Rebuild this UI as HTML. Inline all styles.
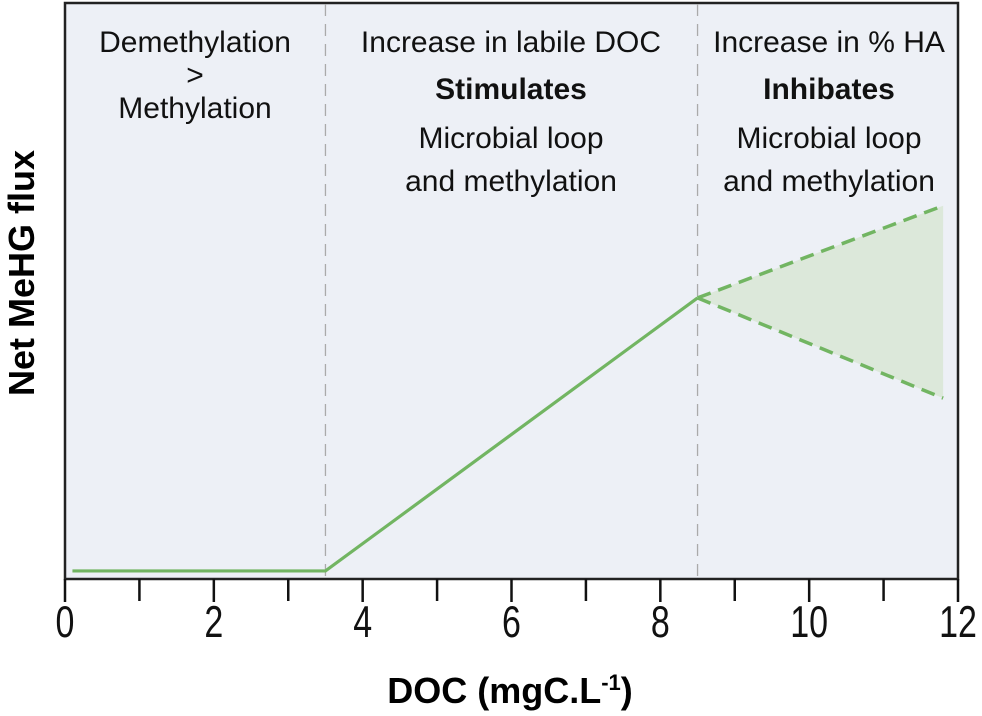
<!DOCTYPE html>
<html><head><meta charset="utf-8"><style>
body{margin:0;background:#fff;}
svg{display:block;font-family:"Liberation Sans",Arial,sans-serif;}
</style></head><body>
<svg id="chart" width="982" height="716">
<rect x="65" y="3" width="893" height="576" fill="#edf0f6" stroke="#222" stroke-width="2.5"/>
<g id="marks"></g>
<g font-size="30" text-anchor="middle" fill="#111">
<text x="195" y="52">Demethylation</text>
<text x="195" y="85">&gt;</text>
<text x="195" y="118">Methylation</text>
<text x="511" y="52">Increase in labile DOC</text>
<text x="511" y="99" font-weight="bold">Stimulates</text>
<text x="511" y="148">Microbial loop</text>
<text x="511" y="191">and methylation</text>
<text x="829" y="52">Increase in % HA</text>
<text x="829" y="99" font-weight="bold">Inhibates</text>
<text x="829" y="148">Microbial loop</text>
<text x="829" y="191">and methylation</text>
</g>
<text transform="translate(34,273) rotate(-90)" text-anchor="middle" font-size="36" font-weight="bold">Net MeHG flux</text>
<text x="510" y="703" text-anchor="middle" font-size="36" font-weight="bold">DOC (mgC.L<tspan font-size="22" dy="-13">-1</tspan><tspan dy="13">)</tspan></text>
<g id="xaxis"></g>
</svg>
<script>
const xTicks=[0,1,2,3,4,5,6,7,8,9,10,11,12];
const xTickLabels=["0","","2","","4","","6","","8","","10","","12"];
const zoneBounds=[3.5,8.5];
const mainX=[0.1,3.5,8.5];
const mainY=[1.4,1.4,48.8];
const upperX=[8.5,11.8];
const upperY=[48.8,64.8];
const lowerX=[8.5,11.8];
const lowerY=[48.8,31.4];
const sx=v=>65+v*(893/12);
const sy=v=>579-v*5.76;
const NS="http://www.w3.org/2000/svg";
const marks=document.getElementById('marks');
const xa=document.getElementById('xaxis');
function mk(tag,attrs,parent){const e=document.createElementNS(NS,tag);for(const k in attrs)e.setAttribute(k,attrs[k]);parent.appendChild(e);return e;}
zoneBounds.forEach(b=>{const l=mk('line',{x1:sx(b),x2:sx(b),y1:4,y2:578,stroke:'#aaa','stroke-width':1.3,'stroke-dasharray':'12,8'},marks);

});
const poly=[];upperX.forEach((x,i)=>poly.push(sx(x)+','+sy(upperY[i])));
for(let i=lowerX.length-1;i>=0;i--)poly.push(sx(lowerX[i])+','+sy(lowerY[i]));
const f=mk('polygon',{points:poly.join(' '),fill:'#dce8da'},marks);


const m=mk('polyline',{points:mainX.map((x,i)=>sx(x)+','+sy(mainY[i])).join(' '),fill:'none',stroke:'#72b562','stroke-width':3.2},marks);


const u=mk('polyline',{points:upperX.map((x,i)=>sx(x)+','+sy(upperY[i])).join(' '),fill:'none',stroke:'#72b562','stroke-width':3.5,'stroke-dasharray':'14,8'},marks);


const lo=mk('polyline',{points:lowerX.map((x,i)=>sx(x)+','+sy(lowerY[i])).join(' '),fill:'none',stroke:'#72b562','stroke-width':3.5,'stroke-dasharray':'14,8'},marks);


xTicks.forEach((t,i)=>{const tk=mk('line',{x1:sx(t),x2:sx(t),y1:579,y2:i%2==0?602:601,stroke:'#111','stroke-width':2.5},xa);


if(xTickLabels[i]){const tx=mk('text',{transform:'translate('+sx(t)+',637) scale(1,1.3)','text-anchor':'middle','font-size':34,fill:'#111'},xa);tx.textContent=xTickLabels[i];

}});
</script>
</body></html>
